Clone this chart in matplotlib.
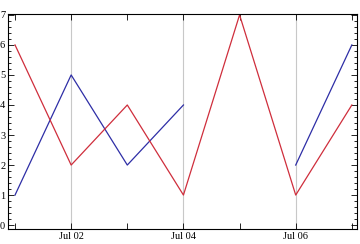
import numpy as np
import pandas as pd
import matplotlib
matplotlib.use("Agg")
import matplotlib.pyplot as plt
import matplotlib.dates as mdates
import matplotlib.ticker as mticker

plt.rcParams["font.family"] = ["Liberation Serif", "DejaVu Serif"]

# ── Data ─────────────────────────────────────────────────────────────────────
dates = pd.date_range("2023-07-01", "2023-07-07", freq="D")
blue_vals = [1, 5, 2, 4, np.nan, 2, 6]
red_vals = [6, 2, 4, 1, 7, 1, 4]

# ── Figure ───────────────────────────────────────────────────────────────────
fig = plt.figure(figsize=(3.6, 2.44), dpi=100)
ax = fig.add_axes([8 / 360, 1 - 229 / 244, 349 / 360, 215 / 244])

ax.plot(dates, blue_vals, color="#2e2ea6", lw=0.9)
ax.plot(dates, red_vals, color="#cf2e3c", lw=0.9)

ax.set_xlim(dates[0] - pd.Timedelta(hours=3), dates[-1] + pd.Timedelta(hours=2.2))
ax.set_ylim(-0.13, 7.03)

ax.xaxis.set_major_locator(mdates.DayLocator(bymonthday=[2, 4, 6]))
ax.xaxis.set_minor_locator(mdates.DayLocator())
ax.xaxis.set_major_formatter(mdates.DateFormatter("%b %d"))
ax.yaxis.set_major_locator(mticker.MultipleLocator(1))
ax.yaxis.set_minor_locator(mticker.MultipleLocator(0.2))

ax.grid(axis="x", which="major", color="#c8c8c8", lw=0.8)
ax.tick_params(which="both", direction="in", top=True, right=True,
               labelsize=7.5, width=0.6, pad=2)
ax.tick_params(which="major", length=4)
ax.tick_params(axis="x", which="minor", length=4)
ax.tick_params(axis="y", which="minor", length=2)
for s in ax.spines.values():
    s.set_linewidth(0.8)

plt.savefig("out.png", dpi=100)
